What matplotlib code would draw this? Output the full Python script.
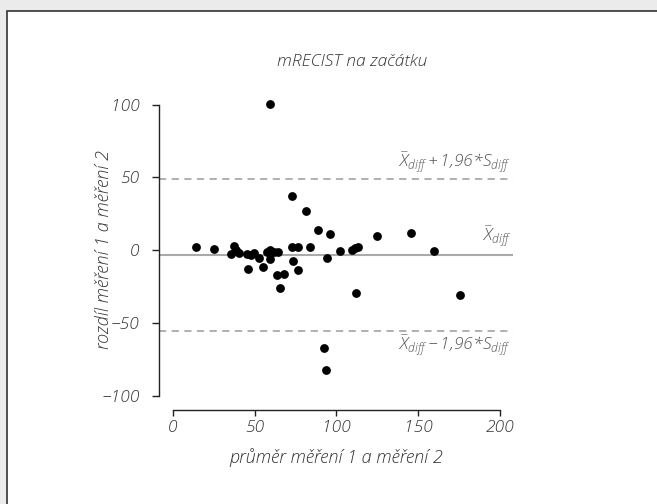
import matplotlib
matplotlib.use("Agg")
import matplotlib.pyplot as plt
from matplotlib.patches import Rectangle

# prumer mereni 1 a 2 (x) a rozdil (y)
prumer = [14.3, 24.9, 37.5, 35.5, 40.2, 38.5, 45.5, 47.5, 49.8, 52.4,
          45.7, 55.1, 57.5, 59.6, 61.6, 64.1, 59.6, 63.7, 67.7, 65.7,
          59.6, 72.9, 76.3, 73.2, 76.3, 72.9, 81.4, 84.1, 88.8, 96.3,
          94.3, 102.0, 109.6, 111.6, 113.0, 124.6, 145.7, 159.6, 175.3, 112.0,
          92.6, 93.7]
rozdil = [2.0, 0.7, 2.9, -2.5, -1.6, 0.0, -2.5, -3.5, -1.6, -5.5,
          -12.6, -11.3, -1.5, 0.5, -1.0, -1.3, -6.2, -17.0, -16.3, -26.0,
          100.5, 2.5, 2.5, -7.3, -13.5, 37.0, 27.0, 2.5, 13.9, 11.0,
          -5.0, -0.3, 0.0, 1.3, 2.3, 10.0, 11.7, -0.3, -30.7, -29.5,
          -67.1, -82.4]
prumer_diff = -3.3
horni_mez = 48.8
dolni_mez = -55.4

plt.rcParams['font.family'] = ['Open Sans', 'DejaVu Sans']
plt.rcParams['font.style'] = 'italic'
plt.rcParams['font.weight'] = 'light'
plt.rcParams['axes.labelweight'] = 'light'
plt.rcParams['mathtext.fontset'] = 'custom'
plt.rcParams['mathtext.it'] = 'Open Sans:italic:light'
plt.rcParams['mathtext.rm'] = 'Open Sans:italic:light'
plt.rcParams['axes.unicode_minus'] = True

fig = plt.figure(figsize=(6.57, 5.04), dpi=100)
fig.patch.set_facecolor('#ebebeb')
ramecek = Rectangle((7/657, -0.01), 1.0, 1 - 11/504 + 0.01, transform=fig.transFigure,
                    facecolor='white', edgecolor='#333333', linewidth=1.2, zorder=-5)
fig.patches.append(ramecek)

ax = fig.add_axes([159/657, 1 - 403/504, 354/657, 307/504])
ax.set_zorder(2)
ax.patch.set_alpha(0)
ax.set_xlim(-8.5, 208)
ax.set_ylim(-105, 106)

ax.axhline(prumer_diff, color='#aaaaaa', lw=1.5, zorder=1)
ax.axhline(horni_mez, color='#aaaaaa', lw=1.3, ls=(0, (4, 3)), zorder=1)
ax.axhline(dolni_mez, color='#aaaaaa', lw=1.3, ls=(0, (4, 3)), zorder=1)

ax.scatter(prumer, rozdil, s=40, color='black', zorder=3, linewidths=0)

for s in ['top', 'right']:
    ax.spines[s].set_visible(False)
ax.spines['left'].set_bounds(-100, 100)
ax.spines['bottom'].set_bounds(0, 200)
ax.spines['bottom'].set_position(('outward', 5))
for s in ['left', 'bottom']:
    ax.spines[s].set_color('#222222')
    ax.spines[s].set_linewidth(1.0)

ax.set_xticks([0, 50, 100, 150, 200])
ax.set_yticks([-100, -50, 0, 50, 100])
ax.set_yticklabels(['\u2212100', '\u221250', '0', '50', '100'])
ax.tick_params(width=1, color='#222222', labelsize=12.5, labelcolor='#333333')
ax.tick_params(axis='y', length=5, pad=9)
ax.tick_params(axis='x', length=4, pad=3)

ax.set_xlabel('průměr měření 1 a měření 2', fontsize=13, color='#333333', labelpad=9)
ax.set_ylabel('rozdíl měření 1 a měření 2', fontsize=13, color='#333333')
ax.yaxis.set_label_coords(-0.13, 0.5)
fig.text(352/657, 1 - 62/504, 'mRECIST na začátku', ha='center', va='center',
         fontsize=12.5, color='#333333')

ax.text(207, horni_mez + 3, r'$\bar{X}_{diff}+1{,}96{*}S_{diff}$', ha='right', va='bottom',
        fontsize=12.5, color='#555555')
ax.text(207, prumer_diff + 4, r'$\bar{X}_{diff}$', ha='right', va='bottom',
        fontsize=12.5, color='#555555')
ax.text(207, dolni_mez - 2, r'$\bar{X}_{diff}-1{,}96{*}S_{diff}$', ha='right', va='top',
        fontsize=12.5, color='#555555')

fig.savefig('out.png', dpi=100, facecolor=fig.get_facecolor())
